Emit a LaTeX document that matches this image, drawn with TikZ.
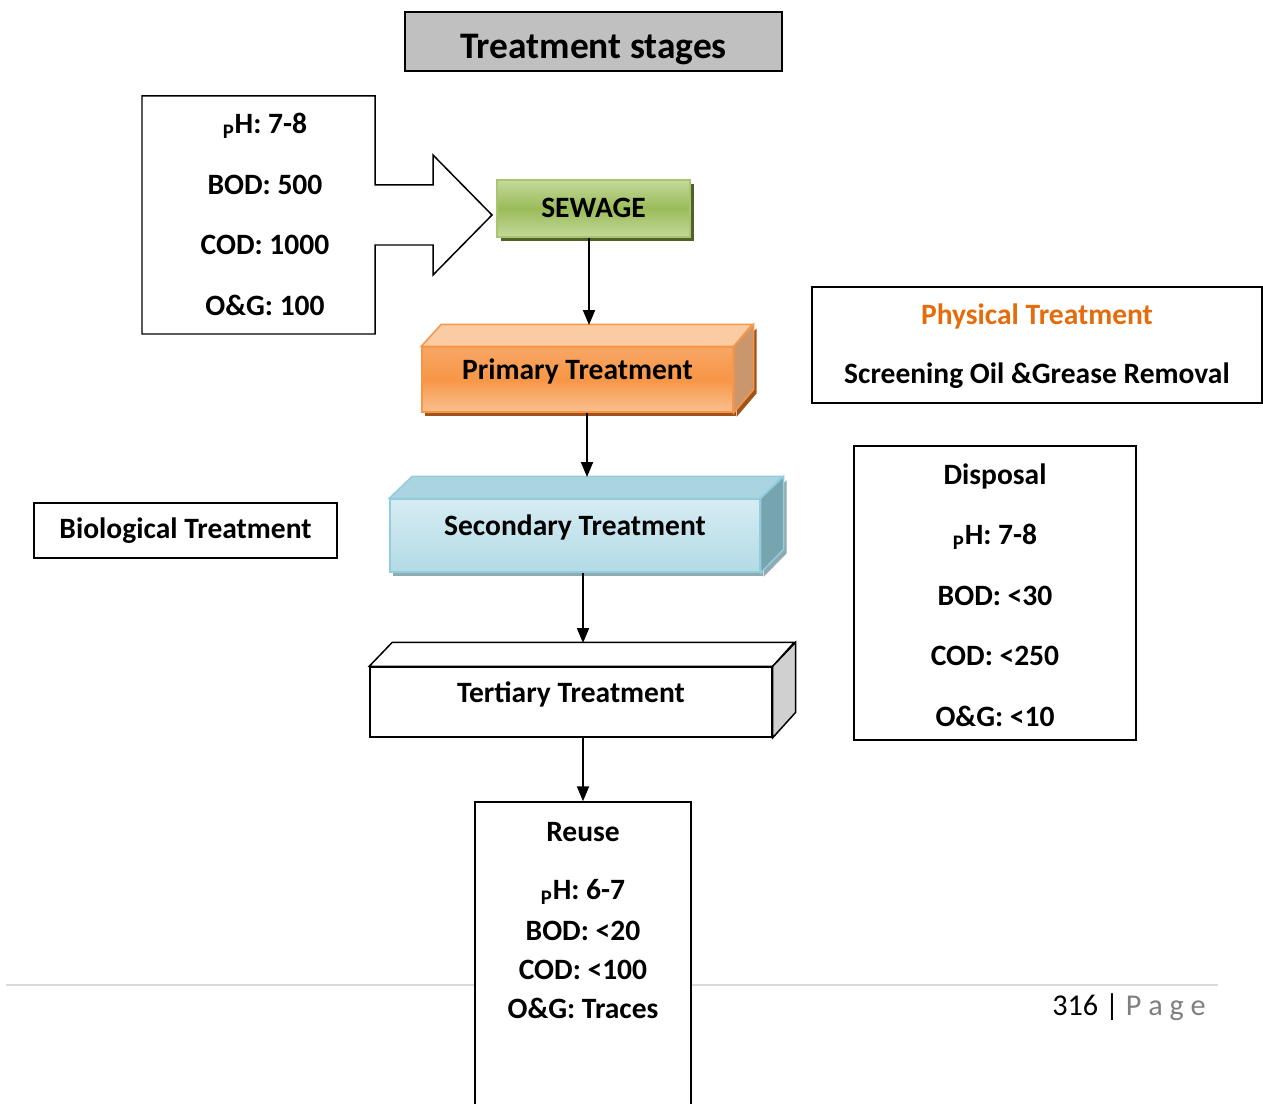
\documentclass[tikz,border=0pt]{standalone}
\usepackage{fontspec}
\setmainfont{Carlito}
\usepackage{tikz}
\usetikzlibrary{arrows.meta}
\usetikzlibrary{shadows}

\definecolor{titlegray}{HTML}{C0C0C0}
\definecolor{sewtop}{HTML}{C4D99B}
\definecolor{sewmid}{HTML}{9BBB59}
\definecolor{sewedge}{HTML}{A9C66E}
\definecolor{sewdark}{HTML}{4F6228}
\definecolor{primtop}{HTML}{F8A666}
\definecolor{primmid}{HTML}{F79646}
\definecolor{primbot}{HTML}{FAC090}
\definecolor{primlid}{HTML}{FBCBA3}
\definecolor{primside}{HTML}{C9966E}
\definecolor{primdark}{HTML}{A0531A}
\definecolor{sectop}{HTML}{D6ECF2}
\definecolor{secbot}{HTML}{B2DBE6}
\definecolor{secedge}{HTML}{93CDDD}
\definecolor{seclid}{HTML}{A9D5E1}
\definecolor{secside}{HTML}{76A5B0}
\definecolor{secdark}{HTML}{8FAAB3}
\definecolor{terside}{HTML}{D0D0D0}
\definecolor{physorange}{HTML}{E46C0A}
\definecolor{footgray}{HTML}{D9D9D9}
\definecolor{pagegray}{HTML}{7F7F7F}

\tikzset{
  box/.style={draw=black, line width=0.85pt, fill=white, inner sep=0pt},
  lbl/.style={anchor=center, inner sep=0pt, font=\fontsize{16.8}{20}\selectfont\bfseries},
  face/.style={inner sep=0pt, text height=0.4cm, text depth=0.4cm, font=\fontsize{16.8}{20}\selectfont\bfseries},
  flow/.style={line width=1.1pt, -{Triangle[width=0.24cm,length=0.3cm]}}
}

\begin{document}
\begin{tikzpicture}[x=0.02cm, y=-0.02cm]
\useasboundingbox (0,0) rectangle (1263,1104);

% title
\node[box, fill=titlegray, minimum width=7.54cm, minimum height=1.18cm, text height=0.7cm, text depth=0pt, font=\fontsize{21.3}{25}\selectfont\bfseries] (title) at (593.5,41.5) {Treatment stages};

% raw sewage data with arrow
\draw[line width=0.85pt, fill=white] (375,96) -- (142,96) -- (142,334) -- (375,334) -- (375,245) -- (433,245) -- (433,275) -- (492,215) -- (433,155) -- (433,185) -- (375,185) -- cycle;
\node[lbl] (inph) at (265,126) {\textsubscript{P}H: 7-8};
\node[lbl] (inbod) at (265,185) {BOD: 500};
\node[lbl] (incod) at (265,245) {COD: 1000};
\node[lbl] (inog) at (265,305) {O\&G: 100};

\node[face, draw=sewedge, line width=0.85pt, top color=sewtop, bottom color=sewtop, middle color=sewmid, minimum width=3.86cm, minimum height=1.14cm, text height=0.38cm, text depth=0.02cm, general shadow={fill=sewdark, shadow xshift=0.08cm, shadow yshift=-0.08cm}] (sewage) at (593.5,208.5) {SEWAGE};

% primary
\node[face, draw=primmid, line width=0.85pt, top color=primtop, bottom color=primbot, middle color=primmid, minimum width=6.22cm, minimum height=1.3cm, general shadow={fill=primdark, shadow xshift=0.06cm, shadow yshift=-0.08cm}] (prim) at (577.5,379.5) {Primary Treatment};
\fill[primdark] ([shift={(3,4)}]prim.north east) -- ++(20,-22) -- ++(0,65) -- ([shift={(3,4)}]prim.south east) -- cycle;
\draw[primmid, line width=0.85pt, fill=primlid] (prim.north west) -- ++(20,-22) -- ++(311,0) -- (prim.north east) -- cycle;
\draw[primmid, line width=0.85pt, fill=primside] (prim.north east) -- ++(20,-22) -- ++(0,65) -- (prim.south east) -- cycle;
\coordinate (primin) at (589,325);

% secondary
\node[face, draw=secedge, line width=0.85pt, top color=sectop, bottom color=secbot, minimum width=7.4cm, minimum height=1.46cm, general shadow={fill=secdark, shadow xshift=0.06cm, shadow yshift=-0.08cm}] (sec) at (575,535.5) {Secondary Treatment};
\fill[secdark] ([shift={(3,4)}]sec.north east) -- ++(23,-22) -- ++(0,73) -- ([shift={(3,4)}]sec.south east) -- cycle;
\draw[secedge, line width=0.85pt, fill=seclid] (sec.north west) -- ++(23,-22) -- ++(370,0) -- (sec.north east) -- cycle;
\draw[secedge, line width=0.85pt, fill=secside] (sec.north east) -- ++(23,-22) -- ++(0,73) -- (sec.south east) -- cycle;
\coordinate (secin) at (587,477);

% tertiary
\node[face, box, minimum width=8.04cm, minimum height=1.4cm] (ter) at (571,702) {Tertiary Treatment};
\draw[line width=0.85pt, fill=white] (ter.north west) -- ++(23,-24) -- ++(402,0) -- (ter.north east) -- cycle;
\draw[line width=0.85pt, fill=terside] (ter.north east) -- ++(23,-24) -- ++(0,70) -- (ter.south east) -- cycle;
\coordinate (terin) at (583,643);

% side notes
\node[box, minimum width=6.06cm, minimum height=1.1cm, font=\fontsize{16.8}{20}\selectfont\bfseries] (bio) at (185.5,530.5) {Biological Treatment};
\node[box, minimum width=9cm, minimum height=2.32cm] (phys) at (1037,345) {};
\node[lbl, text=physorange] (physhead) at (1037,316) {Physical Treatment};
\node[lbl] (physlist) at (1037,376) {Screening Oil \&Grease Removal};

\node[box, minimum width=5.64cm, minimum height=5.88cm] (disp) at (995,593) {};
\node[lbl] (disphead) at (995,476) {Disposal};
\node[lbl] (dispph) at (995,537) {\textsubscript{P}H: 7-8};
\node[lbl] (dispbod) at (995,596) {BOD: <30};
\node[lbl] (dispcod) at (995,656) {COD: <250};
\node[lbl] (dispog) at (995,716) {O\&G: <10};

% footer
\draw[footgray, line width=1pt] (6,985) -- (1218,985);
\node[anchor=east, inner sep=0pt, font=\fontsize{17.2}{20}\selectfont] (pageno) at (1206,1007) {316 | \textcolor{pagegray}{P a g e}};

% reuse
\node[box, minimum width=4.32cm, minimum height=6.36cm] (reuse) at (583,961) {};
\node[lbl] (reusehead) at (583,832) {Reuse};
\node[lbl] (reuseph) at (583,892) {\textsubscript{P}H: 6-7};
\node[lbl] (reusebod) at (583,931) {BOD: <20};
\node[lbl] (reusecod) at (583,970) {COD: <100};
\node[lbl] (reuseog) at (583,1008) {O\&G: Traces};

% flow
\draw[flow] (sewage.south -| primin) -- (primin);
\draw[flow] (prim.south -| secin) -- (secin);
\draw[flow] (sec.south -| terin) -- (terin);
\draw[flow] (ter.south -| reuse.north) -- (reuse.north);
\end{tikzpicture}
\end{document}
